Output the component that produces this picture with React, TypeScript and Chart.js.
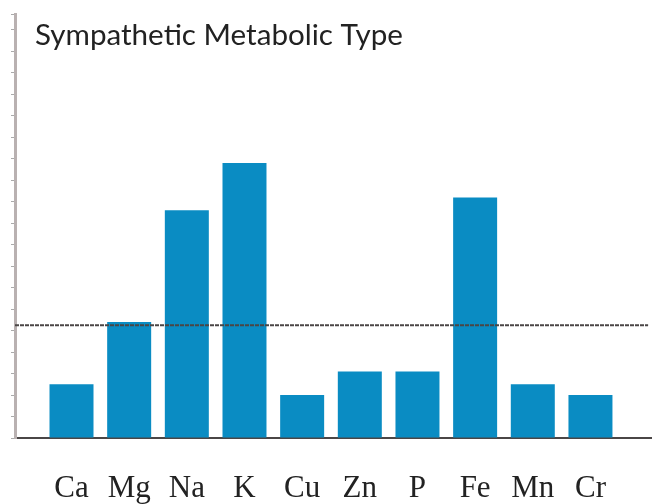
import React, { useEffect, useRef } from "react";
import { Chart, registerables } from "chart.js";

Chart.register(...registerables);

const TITLE = "Sympathetic Metabolic Type";
const categories = ["Ca", "Mg", "Na", "K", "Cu", "Zn", "P", "Fe", "Mn", "Cr"];
const levels = [25, 54, 106, 128, 20, 31, 31, 112, 25, 20];
const referenceLevel = 52.5;
const yMax = 197.4;
const yStep = 10;
const xMin = -0.98;
const xMax = 10.05;

const titlePlugin = {
  id: "cornerTitle",
  afterDraw(chart: any) {
    const { ctx, chartArea } = chart;
    ctx.save();
    ctx.fillStyle = "#222";
    ctx.font = "29.6px Lato";
    ctx.textBaseline = "alphabetic";
    ctx.textAlign = "left";
    ctx.fillText(TITLE, chartArea.left + 20, chartArea.top + 30.5);
    ctx.restore();
  },
};

export default function App() {
  const ref = useRef<HTMLCanvasElement | null>(null);
  useEffect(() => {
    if (!ref.current) return;
    const chart = new Chart(ref.current, {
      type: "bar",
      data: {
        datasets: [
          {
            type: "line",
            data: [
              { x: xMin, y: referenceLevel },
              { x: xMax - 0.05, y: referenceLevel },
            ],
            borderColor: "#4a4646",
            borderWidth: 2,
            borderDash: [4, 1],
            pointRadius: 0,
            order: 0,
          } as any,
          {
            type: "bar",
            data: categories.map((c, i) => ({ x: i, y: levels[i] })),
            backgroundColor: "#0a8cc3",
            borderWidth: 0,
            barPercentage: 0.763,
            categoryPercentage: 1,
            order: 1,
          } as any,
        ],
      },
      options: {
        animation: false,
        responsive: false,
        maintainAspectRatio: false,
        layout: { padding: { top: 14, right: 7, left: 0, bottom: 0 } },
        plugins: {
          legend: { display: false },
          tooltip: { enabled: false },
          title: { display: false },
        },
        scales: {
          x: {
            type: "linear",
            min: xMin,
            max: xMax,
            offset: false,
            afterFit: (s: any) => {
              s.height = 66;
            },
            afterBuildTicks: (s: any) => {
              s.ticks = categories.map((_, i) => ({ value: i }));
            },
            grid: { display: false, drawOnChartArea: false, drawTicks: false },
            border: { display: true, color: "#4a4646", width: 2, dash: [4, 1] },
            ticks: {
              autoSkip: false,
              maxRotation: 0,
              padding: 32,
              color: "#222",
              font: { family: "Liberation Serif", size: 31 },
              callback: (v: any) => {
                const n = Math.round(Number(v));
                return categories[n] ?? "";
              },
            },
          },
          y: {
            min: 0,
            max: yMax,
            afterFit: (s: any) => {
              s.width = 15;
            },
            grid: {
              drawOnChartArea: false,
              drawTicks: true,
              tickLength: 4,
              tickColor: "#aaa",
              tickWidth: 1,
            },
            border: { display: true, color: "#b9b1b1", width: 3, dash: [2, 1] },
            ticks: { display: false, stepSize: yStep },
          },
        },
      },
      plugins: [titlePlugin],
    });
    return () => chart.destroy();
  }, []);
  return (
    <div style={{ position: "fixed", left: 0, top: 0, width: 658, height: 504, background: "#fff" }}>
      <canvas ref={ref} width={658} height={504} style={{ width: 658, height: 504 }} />
    </div>
  );
}
